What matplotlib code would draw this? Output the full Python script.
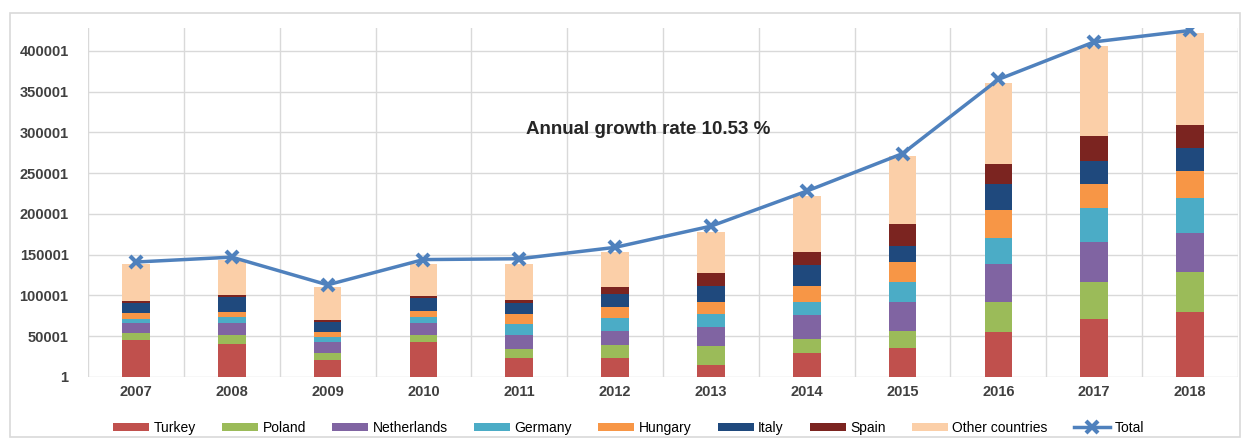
import matplotlib.pyplot as plt
import matplotlib.patches as mpatches
import numpy as np

plt.rcParams['font.family'] = ['Liberation Sans', 'DejaVu Sans']

years = ['2007', '2008', '2009', '2010', '2011', '2012',
         '2013', '2014', '2015', '2016', '2017', '2018']

# valeurs (milliers)
turkey = [45, 40, 21, 43, 23, 23, 15, 30, 35, 55, 71, 80]
poland = [9, 11, 9, 8, 11, 16, 23, 17, 22, 37, 45, 49]
netherlands = [12, 15, 13, 15, 18, 18, 23, 29, 35, 47, 49, 47]
germany = [5, 8, 6, 7, 13, 15, 16, 16, 24, 32, 42, 44]
hungary = [7, 6, 6, 8, 12, 14, 15, 19, 25, 34, 30, 33]
italy = [13, 18, 12, 16, 14, 16, 20, 26, 20, 32, 28, 28]
spain = [2, 3, 3, 2, 4, 8, 15, 16, 27, 24, 30, 28]
other = [45, 42, 40, 40, 43, 43, 51, 69, 83, 100, 111, 113]
total = [141, 147, 113, 144, 145, 159, 185, 228, 274, 365, 411, 425]

names = ['Turkey', 'Poland', 'Netherlands', 'Germany', 'Hungary',
         'Italy', 'Spain', 'Other countries']
series = [turkey, poland, netherlands, germany, hungary, italy, spain, other]
colors = ['#c0504d', '#9bbb59', '#8064a2', '#4bacc6', '#f79646',
          '#1f497d', '#7b2420', '#fbcfa8']

fig = plt.figure(figsize=(12.44, 4.38), dpi=100)
ax = fig.add_axes([88/1244, 61/438, 1150/1244, 349/438])

# cadre gris autour du graphique
fig.patches.append(mpatches.Rectangle((10/1244, 1/438), 1230/1244, 424/438,
                   transform=fig.transFigure, fill=False,
                   edgecolor='#d9d9d9', linewidth=1.2))

x = np.arange(len(years))
bottom = np.zeros(len(years))
for name, vals, c in zip(names, series, colors):
    v = np.array(vals) * 1000.
    ax.bar(x, v, 0.29, bottom=bottom, color=c, label=name, zorder=3)
    bottom += v

ax.plot(x, np.array(total) * 1000., color='#4f81bd', linewidth=2.5,
        marker='x', markersize=9, markeredgewidth=3, label='Total', zorder=4)

ax.set_xlim(-0.5, len(years) - 0.5)
ax.set_ylim(1, 428000)
yt = np.arange(1, 400002, 50000)
ax.set_yticks(yt)
ax.set_yticklabels([str(v) for v in yt], fontsize=10.5, fontweight='bold',
                   color='#404040')
ax.set_xticks(x)
ax.set_xticklabels(years, fontsize=10.5, fontweight='bold', color='#404040')
ax.set_xticks(np.arange(-0.5, len(years)), minor=True)
ax.tick_params(axis='both', which='both', length=0)
ax.tick_params(axis='y', pad=14)
ax.tick_params(axis='x', pad=6)
ax.grid(axis='y', which='major', color='#d9d9d9', linewidth=1, zorder=0)
ax.grid(axis='x', which='minor', color='#d9d9d9', linewidth=1, zorder=0)
for s in ax.spines.values():
    s.set_visible(False)

ax.text(5.35, 304000, 'Annual growth rate 10.53 %', fontsize=13.5,
        fontweight='bold', ha='center', va='center', color='#262626')

# Total en dernier dans la legende
h, l = ax.get_legend_handles_labels()
h = h[1:] + h[:1]
l = l[1:] + l[:1]
ax.legend(h, l, loc='upper center', bbox_to_anchor=(0.47, -0.09), ncol=9,
          frameon=False, fontsize=10, handlelength=2.6, handleheight=0.5,
          columnspacing=1.9, handletextpad=0.3)

plt.savefig('out.png')
plt.close()
